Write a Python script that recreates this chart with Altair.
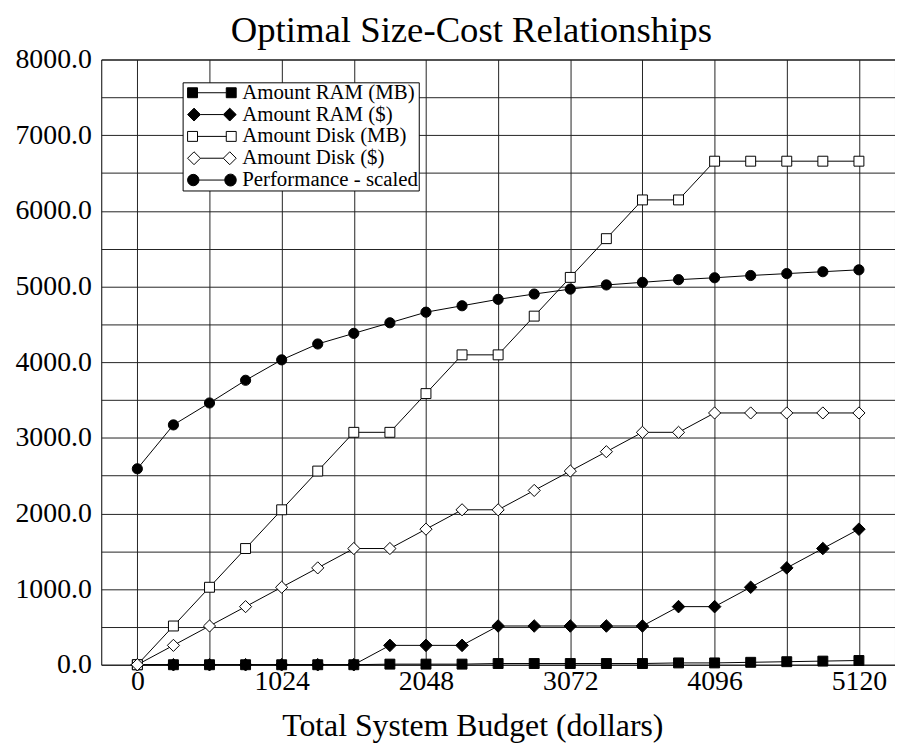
import altair as alt
import pandas as pd

# ---- data ----
budget = [0, 256, 512, 768, 1024, 1280, 1536, 1792, 2048, 2304, 2560,
          2816, 3072, 3328, 3584, 3840, 4096, 4352, 4608, 4864, 5120]
ram_mb = [0, 0, 0, 0, 0, 0, 0, 8, 8, 8, 16, 16, 16, 16, 16, 24, 24, 32, 40, 48, 56]
ram_usd = [0, 0, 0, 0, 0, 0, 0, 256, 256, 256, 512, 512, 512, 512, 512,
           768, 768, 1024, 1280, 1536, 1792]
disk_mb = [0, 512, 1024, 1536, 2048, 2560, 3072, 3072, 3584, 4096, 4096,
           4608, 5120, 5632, 6144, 6144, 6656, 6656, 6656, 6656, 6656]
disk_usd = [0, 256, 512, 768, 1024, 1280, 1536, 1536, 1792, 2048, 2048,
            2304, 2560, 2816, 3072, 3072, 3328, 3328, 3328, 3328, 3328]
perf = [2590, 3170, 3460, 3760, 4030, 4240, 4380, 4520, 4660, 4745, 4830,
        4900, 4965, 5020, 5055, 5090, 5115, 5145, 5170, 5195, 5220]

series_names = ["Amount RAM (MB)", "Amount RAM ($)", "Amount Disk (MB)",
                "Amount Disk ($)", "Performance - scaled"]
x_grid = [0, 512, 1024, 1536, 2048, 2560, 3072, 3584, 4096, 4608, 5120]
y_grid = [0, 500, 1000, 1500, 2000, 2500, 3000, 3500, 4000, 4500, 5000,
          5500, 6000, 6500, 7000, 7500, 8000]

rows = []
for name, vals in zip(series_names, [ram_mb, ram_usd, disk_mb, disk_usd, perf]):
    for b, v in zip(budget, vals):
        rows.append({"budget": b, "value": v, "series": name})
df = pd.DataFrame(rows)

FONT = "Liberation Serif"
GRID = "#222222"

x_enc = alt.X("budget:Q",
              scale=alt.Scale(domain=[-256, 5376], nice=False, zero=False),
              axis=alt.Axis(values=x_grid,
                            labelExpr="datum.value % 1024 === 0 ? format(datum.value, 'd') : ''",
                            ticks=False, domain=False, labelFlush=False, labelOverlap=False,
                            labelFont=FONT, labelFontSize=28, labelColor="black",
                            labelPadding=3,
                            title="Total System Budget (dollars)",
                            titleFont=FONT, titleFontSize=32, titleFontWeight="normal",
                            titleColor="black", titleX=374, titleY=71,
                            titleBaseline="alphabetic", titleAlign="center",
                            grid=True, gridColor=GRID, gridWidth=1, gridOpacity=1))
y_enc = alt.Y("value:Q",
              scale=alt.Scale(domain=[0, 8000], nice=False),
              axis=alt.Axis(values=y_grid,
                            labelExpr="datum.value % 1000 === 0 ? format(datum.value, '.1f') : ''",
                            ticks=False, domain=False, labelOverlap=False,
                            labelFont=FONT, labelFontSize=28, labelColor="black",
                            labelPadding=10, title=None,
                            grid=True, gridColor=GRID, gridWidth=1, gridOpacity=1))

base = alt.Chart(df)

lines = base.mark_line(color="black", strokeWidth=1).encode(
    x=x_enc, y=y_enc, detail="series:N")

styles = {
    "Amount RAM (MB)": ("square", "black", 100),
    "Amount RAM ($)": ("diamond", "black", 160),
    "Amount Disk (MB)": ("square", "white", 100),
    "Amount Disk ($)": ("diamond", "white", 150),
    "Performance - scaled": ("circle", "black", 105),
}
point_layers = []
for name in series_names:
    shp, fil, sz = styles[name]
    point_layers.append(
        base.mark_point(shape=shp, fill=fil, filled=True, stroke="black",
                        strokeWidth=1, size=sz, opacity=1)
        .encode(x=x_enc, y=y_enc)
        .transform_filter(alt.datum.series == name)
    )

# legend glyphs: marker - line - marker (unit = 9 px)
sq = ("M-0.611,-0.556H0.5V0.556H-0.611Z M0.5,0H3.722 "
      "M3.722,-0.556H4.833V0.556H3.722Z")
di = ("M-0.611,0L0.111,-0.722L0.833,0L0.111,0.722Z M0.833,0H3.389 "
      "M3.389,0L4.111,-0.722L4.833,0L4.111,0.722Z")
ci = ("M-0.611,0A0.639,0.639 0 1,0 0.667,0A0.639,0.639 0 1,0 -0.611,0Z M0.667,0H3.556 "
      "M3.556,0A0.639,0.639 0 1,0 4.833,0A0.639,0.639 0 1,0 3.556,0Z")
legend_paths = [sq, di, sq, di, ci]
legend_fills = ["black", "black", "white", "white", "black"]
legend_strokes = ["black", "black", "black", "black", "black"]

leg = alt.Legend(title=None, orient="none", legendX=82, legendY=23,
                 fillColor="white", strokeColor="black", padding=0,
                 labelFont=FONT, labelFontSize=21, labelColor="black",
                 labelOffset=39, symbolSize=324, symbolStrokeWidth=1,
                 symbolStrokeColor="black", symbolOpacity=1, rowPadding=0,
                 labelLimit=400)

legend_layer = base.mark_point(filled=True, strokeWidth=1, opacity=1).encode(
    x=x_enc, y=y_enc,
    shape=alt.Shape("series:N", sort=series_names,
                    scale=alt.Scale(domain=series_names, range=legend_paths), legend=leg),
    fill=alt.Fill("series:N", sort=series_names,
                  scale=alt.Scale(domain=series_names, range=legend_fills), legend=leg),
    stroke=alt.Stroke("series:N", sort=series_names,
                      scale=alt.Scale(domain=series_names, range=legend_strokes), legend=leg),
).transform_filter("false")

chart = alt.layer(lines, *point_layers, legend_layer).properties(
    width=800, height=610,
    autosize=alt.AutoSizeParams(type="none"),
    padding={"left": 94, "top": 49, "right": 0, "bottom": 80},
    title=alt.TitleParams("Optimal Size-Cost Relationships", font=FONT, fontSize=37,
                          fontWeight="normal", color="black", anchor="middle",
                          frame="group", dx=-27, offset=-4),
).configure_view(stroke="black", strokeWidth=1
).configure_legend(labelFont=FONT, labelFontSize=21, labelColor="black")

chart.save("out.html", embed_options={"renderer": "svg", "actions": False})
